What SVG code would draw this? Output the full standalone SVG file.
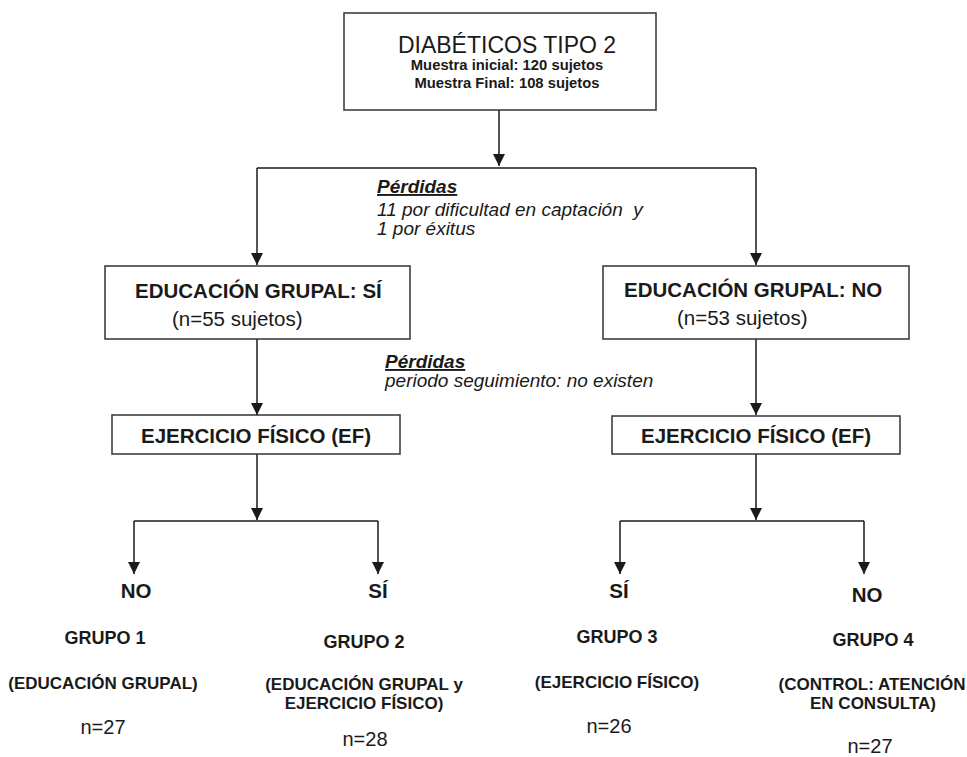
<svg xmlns="http://www.w3.org/2000/svg" width="967" height="757" viewBox="0 0 967 757">
<defs>
<marker id="arr" markerUnits="userSpaceOnUse" markerWidth="13" markerHeight="13" refX="12" refY="6" orient="auto">
<path d="M0,0 L12,6 L0,12 Z" fill="#1a1a1a"/>
</marker>
<style>
text{font-family:"Liberation Sans",Arial,Helvetica,sans-serif;fill:#1a1a1a}
.box{fill:#fff;stroke:#333;stroke-width:1.5}
.ln{fill:none;stroke:#1a1a1a;stroke-width:1.5}
.b{font-weight:bold}
.it{font-style:italic;font-size:19px}
.hd{font-style:italic;font-weight:bold;font-size:19px;text-decoration:underline}
.h{font-weight:bold;font-size:20.5px}
.r{font-size:20.5px}
.lab{font-weight:bold;font-size:20.5px;text-anchor:middle}
.g{font-weight:bold;font-size:18px;text-anchor:middle}
.d{font-weight:bold;font-size:17px;text-anchor:middle}
.n{font-size:20px;text-anchor:middle}
</style>
</defs>
<rect width="967" height="757" fill="#fff"/>
<g id="connectors">
<path class="ln" d="M499,110 V166" marker-end="url(#arr)"/>
<path class="ln" d="M257,168 H756"/>
<path class="ln" d="M257,168 V265" marker-end="url(#arr)"/>
<path class="ln" d="M756,168 V265" marker-end="url(#arr)"/>
<path class="ln" d="M257,339 V415" marker-end="url(#arr)"/>
<path class="ln" d="M756,339 V415" marker-end="url(#arr)"/>
<path class="ln" d="M257,454 V520" marker-end="url(#arr)"/>
<path class="ln" d="M134,521 H378"/>
<path class="ln" d="M134,521 V574" marker-end="url(#arr)"/>
<path class="ln" d="M378,521 V574" marker-end="url(#arr)"/>
<path class="ln" d="M756,454 V520" marker-end="url(#arr)"/>
<path class="ln" d="M620,521 H864"/>
<path class="ln" d="M620,521 V574" marker-end="url(#arr)"/>
<path class="ln" d="M864,521 V574" marker-end="url(#arr)"/>
</g>
<g id="top">
<rect class="box" x="344" y="13" width="312" height="97"/>
<text x="507" y="53" text-anchor="middle" font-size="23">DIABÉTICOS TIPO 2</text>
<text x="507" y="70" text-anchor="middle" class="b" font-size="14.8">Muestra inicial: 120 sujetos</text>
<text x="507" y="88" text-anchor="middle" class="b" font-size="14.8">Muestra Final: 108 sujetos</text>
</g>
<g id="perdidas1">
<text x="377" y="193" class="hd">Pérdidas</text>
<text x="377" y="216" class="it" xml:space="preserve">11 por dificultad en captación  y</text>
<text x="377" y="235" class="it">1 por éxitus</text>
</g>
<g id="edu-si">
<rect class="box" x="105" y="266" width="305" height="73"/>
<text x="135" y="298" class="h">EDUCACIÓN GRUPAL: SÍ</text>
<text x="172" y="326" class="r">(n=55 sujetos)</text>
</g>
<g id="edu-no">
<rect class="box" x="603" y="266" width="306" height="73"/>
<text x="624" y="297" class="h">EDUCACIÓN GRUPAL: NO</text>
<text x="677" y="325" class="r">(n=53 sujetos)</text>
</g>
<g id="perdidas2">
<text x="385" y="368" class="hd">Pérdidas</text>
<text x="385" y="387" class="it">periodo seguimiento: no existen</text>
</g>
<g id="ef-left">
<rect class="box" x="112" y="415" width="288" height="39"/>
<text x="256" y="443" class="lab">EJERCICIO FÍSICO (EF)</text>
</g>
<g id="ef-right">
<rect class="box" x="612" y="416" width="288" height="38"/>
<text x="756" y="443" class="lab">EJERCICIO FÍSICO (EF)</text>
</g>
<g id="grupo1">
<text x="136" y="598" class="lab">NO</text>
<text x="105" y="644" class="g">GRUPO 1</text>
<text x="103" y="689" class="d">(EDUCACIÓN GRUPAL)</text>
<text x="103" y="734" class="n">n=27</text>
</g>
<g id="grupo2">
<text x="378" y="598" class="lab">SÍ</text>
<text x="364" y="648" class="g">GRUPO 2</text>
<text x="364" y="690" class="d">(EDUCACIÓN GRUPAL y</text>
<text x="364" y="709" class="d">EJERCICIO FÍSICO)</text>
<text x="365" y="746" class="n">n=28</text>
</g>
<g id="grupo3">
<text x="619" y="598" class="lab">SÍ</text>
<text x="617" y="643" class="g">GRUPO 3</text>
<text x="617" y="688" class="d">(EJERCICIO FÍSICO)</text>
<text x="609" y="733" class="n">n=26</text>
</g>
<g id="grupo4">
<text x="867" y="602" class="lab">NO</text>
<text x="873" y="646" class="g">GRUPO 4</text>
<text x="872" y="690" class="d">(CONTROL: ATENCIÓN</text>
<text x="873" y="709" class="d">EN CONSULTA)</text>
<text x="870" y="753" class="n">n=27</text>
</g>
</svg>
